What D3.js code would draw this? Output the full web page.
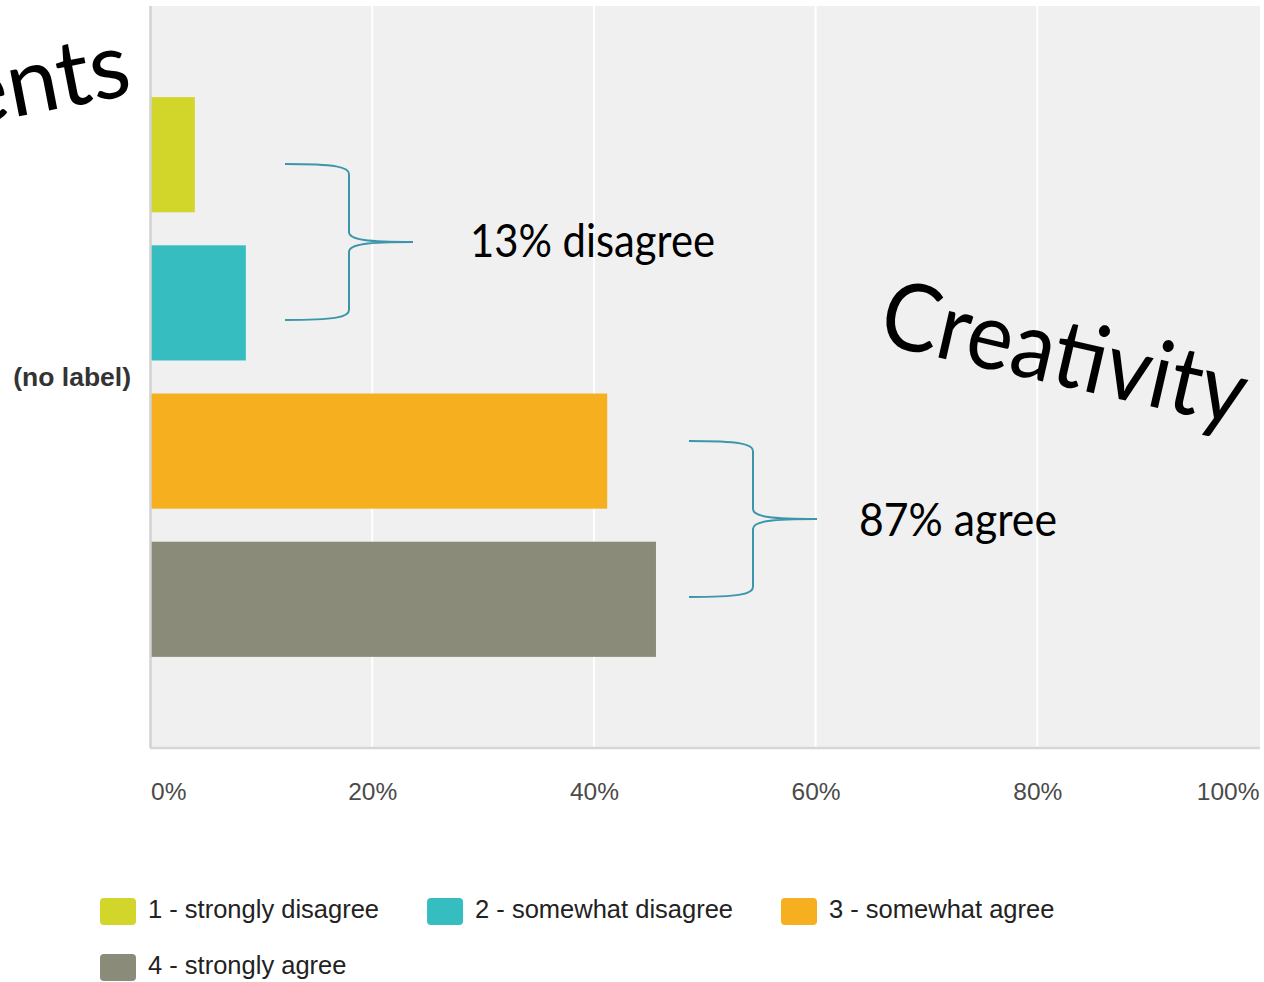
<!DOCTYPE html>
<html>
<head>
<meta charset="utf-8">
<script src="https://cdn.jsdelivr.net/npm/d3@7"></script>
<style>
  html, body { margin: 0; padding: 0; background: #fff; }
  svg { display: block; }
</style>
</head>
<body>
<svg id="chart" width="1264" height="982"></svg>
<script>
// Survey responses for a single (unlabelled) question, share of respondents
const categories = ["(no label)"];
const seriesNames = ["1 - strongly disagree", "2 - somewhat disagree", "3 - somewhat agree", "4 - strongly agree"];
const seriesValues = [0.040, 0.086, 0.412, 0.456];
const seriesColors = ["#d2d52a", "#35bdbf", "#f5af1f", "#8a8b79"];
const tickValues = [0, 0.2, 0.4, 0.6, 0.8, 1.0];
const tickLabels = ["0%", "20%", "40%", "60%", "80%", "100%"];

// Annotation groups: which series each brace spans and its caption
const groupLabels = ["13% disagree", "87% agree"];
const groupSeries = [[0, 1], [2, 3]];

const svg = d3.select("#chart");
const plot = { left: 150, right: 1260, top: 6, bottom: 748 };

const x = d3.scaleLinear().domain([0, 1]).range([plot.left + 0.5, 1259]);
const y = d3.scaleBand()
  .domain(seriesNames)
  .range([plot.top, plot.bottom])
  .paddingInner(0.223)
  .paddingOuter(0.615);
const cat = d3.scaleBand().domain(categories).range([plot.top, plot.bottom]);

// Plot background
svg.append("rect")
  .attr("x", plot.left).attr("y", plot.top)
  .attr("width", plot.right - plot.left).attr("height", plot.bottom - plot.top)
  .attr("fill", "#f0f0f0");

// Vertical gridlines
svg.append("g").selectAll("line")
  .data(tickValues.slice(1, -1))
  .join("line")
  .attr("x1", d => x(d)).attr("x2", d => x(d))
  .attr("y1", plot.top).attr("y2", plot.bottom)
  .attr("stroke", "#ffffff").attr("stroke-width", 2);

// Bars
svg.append("g").selectAll("rect")
  .data(seriesValues)
  .join("rect")
  .attr("x", x(0))
  .attr("y", (d, i) => y(seriesNames[i]))
  .attr("width", d => x(d) - x(0))
  .attr("height", y.bandwidth())
  .attr("fill", (d, i) => seriesColors[i]);

// Axis lines
svg.append("line")
  .attr("x1", plot.left + 0.5).attr("x2", plot.left + 0.5)
  .attr("y1", plot.top).attr("y2", plot.bottom)
  .attr("stroke", "#d2d2d2").attr("stroke-width", 2.5);
svg.append("line")
  .attr("x1", plot.left).attr("x2", plot.right)
  .attr("y1", plot.bottom).attr("y2", plot.bottom)
  .attr("stroke", "#d6d6d6").attr("stroke-width", 2.5);

// X tick labels: end labels hug the plot edges, inner ones are centred
const xAxis = d3.axisBottom(x)
  .tickValues(tickValues)
  .tickFormat((d, i) => tickLabels[i])
  .tickSize(0)
  .tickPadding(0);
const gx = svg.append("g").attr("transform", `translate(0, 800)`).call(xAxis);
gx.select(".domain").remove();
gx.selectAll("text")
  .attr("dy", 0)
  .attr("y", 0)
  .attr("font-family", "Liberation Sans, Arial, sans-serif")
  .attr("font-size", 24.5)
  .attr("fill", "#4a4a4a")
  .attr("text-anchor", (d, i) => i === 0 ? "start" : (i === tickValues.length - 1 ? "end" : "middle"));

// Category label
svg.append("g").selectAll("text")
  .data(categories)
  .join("text")
  .attr("x", 131)
  .attr("y", d => cat(d) + cat.bandwidth() / 2 + 9)
  .attr("text-anchor", "end")
  .attr("font-family", "Liberation Sans, Arial, sans-serif")
  .attr("font-weight", "bold")
  .attr("font-size", 26.5)
  .attr("fill", "#333")
  .text(d => d);

// Legend, wrapped onto rows
const legend = svg.append("g");
let lx = 100, ly = 898;
seriesNames.forEach((name, i) => {
  const g = legend.append("g");
  g.append("rect")
    .attr("width", 36).attr("height", 27).attr("rx", 4)
    .attr("fill", seriesColors[i]);
  const t = g.append("text")
    .attr("x", 48).attr("y", 20)
    .attr("font-family", "Liberation Sans, Arial, sans-serif")
    .attr("font-size", 25.5)
    .attr("fill", "#222")
    .text(name);
  const w = 48 + t.node().getComputedTextLength();
  if (lx + w > 1180 && lx > 100) { lx = 100; ly += 56; }
  g.attr("transform", `translate(${lx}, ${ly})`);
  lx += w + 48;
});

// Curly braces grouping the bars, with captions
const braceColor = "#3b96ac";
function bracePath(x0, top, bottom, depth, tip) {
  const mid = (top + bottom) / 2;
  const xv = x0 + depth;
  return `M${x0},${top} C${x0 + depth * 0.8},${top} ${xv},${top + 3} ${xv},${top + 10}`
    + ` L${xv},${mid - 10}`
    + ` C${xv},${mid - 2} ${xv + depth * 0.3},${mid} ${tip},${mid}`
    + ` C${xv + depth * 0.3},${mid} ${xv},${mid + 2} ${xv},${mid + 10}`
    + ` L${xv},${bottom - 10}`
    + ` C${xv},${bottom - 3} ${x0 + depth * 0.8},${bottom} ${x0},${bottom}`;
}
const braceLayout = [
  { x0: 285, top: 164, bottom: 320, tx: 470, ty: 257, tw: 245 },
  { x0: 689, top: 441, bottom: 597, tx: 859, ty: 536, tw: 198 }
];
braceLayout.forEach((b, i) => {
  svg.append("path")
    .attr("d", bracePath(b.x0, b.top, b.bottom, 64, b.x0 + 128))
    .attr("fill", "none")
    .attr("stroke", braceColor)
    .attr("stroke-width", 2);
  svg.append("text")
    .attr("x", b.tx).attr("y", b.ty)
    .attr("font-family", "Lato, 'Open Sans', sans-serif")
    .attr("font-size", 46)
    .attr("textLength", b.tw)
    .attr("lengthAdjust", "spacingAndGlyphs")
    .attr("fill", "#000")
    .text(groupLabels[i]);
});

// Slide titles overlaid on the chart
svg.append("text")
  .attr("transform", "translate(876, 343) rotate(13)")
  .attr("font-family", "Lato, 'Open Sans', sans-serif")
  .attr("font-size", 94)
  .attr("textLength", 372)
  .attr("lengthAdjust", "spacingAndGlyphs")
  .attr("fill", "#000")
  .text("Creativity");

svg.append("text")
  .attr("transform", "translate(134, 94) rotate(-11)")
  .attr("text-anchor", "end")
  .attr("font-family", "Lato, 'Open Sans', sans-serif")
  .attr("font-size", 92)
  .attr("fill", "#000")
  .text("ents");
</script>
</body>
</html>
